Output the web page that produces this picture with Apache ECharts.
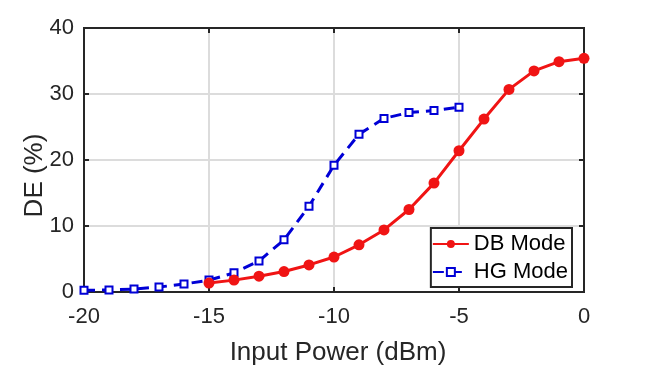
<!DOCTYPE html>
<html><head><meta charset="utf-8">
<script src="https://cdn.jsdelivr.net/npm/echarts@6/dist/echarts.min.js"></script>
<style>html,body{margin:0;padding:0;background:#fff}#c{width:646px;height:366px}</style>
</head><body><div id="c"></div>
<script>
const dbX = [-15,-14,-13,-12,-11,-10,-9,-8,-7,-6,-5,-4,-3,-2,-1,0];
const dbY = [1.35,1.8,2.4,3.1,4.1,5.3,7.15,9.4,12.5,16.5,21.4,26.2,30.7,33.5,34.9,35.4];
const hgX = [-20,-19,-18,-17,-16,-15,-14,-13,-12,-11,-10,-9,-8,-7,-6,-5];
const hgY = [0.25,0.3,0.45,0.75,1.2,1.8,2.9,4.7,7.9,13.0,19.2,23.9,26.3,27.2,27.5,28.0];
const xTicks = [-20,-15,-10,-5,0];
const yTicks = [0,10,20,30,40];
const xTitle = 'Input Power (dBm)';
const yTitle = 'DE (%)';

const font = 'Liberation Sans, Arial, sans-serif';
const chart = echarts.init(document.getElementById('c'));
const pair = (xs, ys) => xs.map((x, i) => [x, ys[i]]);
const axisCommon = {
  axisLine: {show: true, onZero: false, lineStyle: {color: '#262626', width: 2}},
  axisTick: {show: true, inside: true, length: 5, lineStyle: {color: '#262626', width: 2}},
};
chart.setOption({
  animation: false,
  grid: {left: 84, right: 62, top: 28, bottom: 74, show: true, borderColor: '#262626', borderWidth: 2,
         containLabel: false, outerBoundsMode: 'none'},
  xAxis: [{
    type: 'value', min: xTicks[0], max: xTicks[xTicks.length - 1], interval: 5, position: 'bottom',
    ...axisCommon,
    axisLabel: {color: '#262626', fontSize: 22, fontFamily: font, margin: 14},
    splitLine: {show: true, lineStyle: {color: '#dcdcdc', width: 2}},
    name: xTitle, nameLocation: 'middle', nameGap: 48,
    nameTextStyle: {color: '#262626', fontSize: 26, fontFamily: font, padding: [0, 0, 0, 8]}
  }, {
    type: 'value', min: xTicks[0], max: xTicks[xTicks.length - 1], interval: 5, position: 'top',
    ...axisCommon, axisLabel: {show: false}, splitLine: {show: false}
  }],
  yAxis: [{
    type: 'value', min: yTicks[0], max: yTicks[yTicks.length - 1], interval: 10, position: 'left',
    ...axisCommon,
    axisLabel: {color: '#262626', fontSize: 22, fontFamily: font, margin: 10},
    splitLine: {show: true, lineStyle: {color: '#dcdcdc', width: 2}}
  }, {
    type: 'value', min: yTicks[0], max: yTicks[yTicks.length - 1], interval: 10, position: 'right',
    ...axisCommon, axisLabel: {show: false}, splitLine: {show: false}
  }],
  graphic: [{
    type: 'text', x: 35, y: 175.5, rotation: Math.PI / 2,
    style: {text: yTitle, fill: '#262626', fontSize: 26, fontFamily: font, align: 'center', verticalAlign: 'middle'}
  }],
  legend: {
    orient: 'vertical', right: 74, bottom: 79,
    backgroundColor: '#fff', borderColor: '#262626', borderWidth: 2,
    padding: [5, 4, 4, 1], itemGap: 6, itemWidth: 36, itemHeight: 10,
    textStyle: {color: '#000', fontSize: 22, fontFamily: font},
    data: ['DB Mode', 'HG Mode']
  },
  series: [{
    name: 'HG Mode', type: 'line', data: pair(hgX, hgY),
    symbol: 'rect', symbolSize: 7, z: 2,
    itemStyle: {color: '#fff', borderColor: '#0000d6', borderWidth: 2},
    lineStyle: {color: '#0000d6', width: 3, type: [11, 7]},
    color: '#0000d6'
  }, {
    name: 'DB Mode', type: 'line', data: pair(dbX, dbY),
    symbol: 'circle', symbolSize: 11, z: 3,
    itemStyle: {color: '#f01414', borderColor: '#f01414', borderWidth: 0},
    lineStyle: {color: '#f01414', width: 3}
  }]
});
</script></body></html>
